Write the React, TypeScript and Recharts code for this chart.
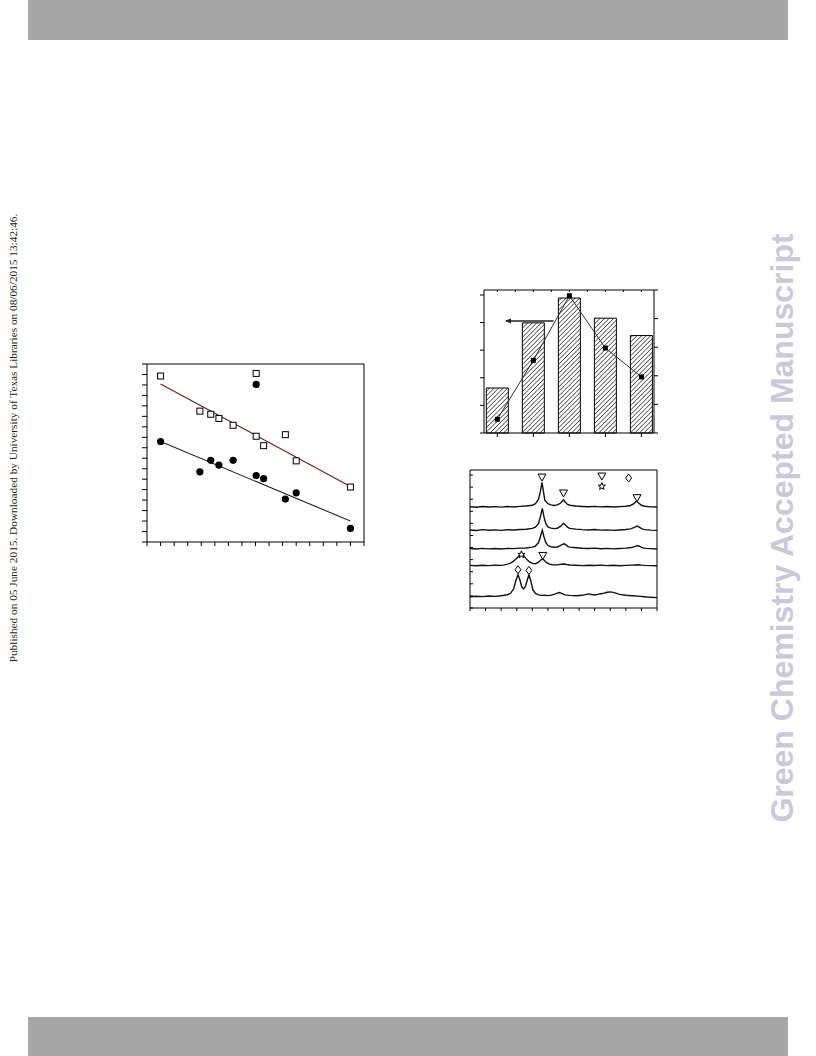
import React from "react";
import {
  Bar,
  ComposedChart,
  Line,
  ReferenceDot,
  ReferenceLine,
  Scatter,
  XAxis,
  YAxis,
} from "recharts";

// 왼쪽 그림: 두 계열의 산점도 + 추세선
const PT_X = [1, 3.9, 4.7, 5.3, 6.35, 8.05, 8.05, 8.6, 10.2, 11.0, 15.0];
const OPEN_Y = [15.85, 12.5, 12.2, 11.8, 11.15, 16.1, 10.1, 9.2, 10.25, 7.75, 5.25];
const FILLED_Y = [9.6, 6.7, 7.8, 7.35, 7.8, 15.05, 6.35, 6.05, 4.1, 4.7, 1.3];
const FIT_X = [1, 15];
const FIT_OPEN_Y = [15.1, 5.3];
const FIT_FILLED_Y = [9.6, 2.0];
const SCAT_X_TICKS = Array.from({ length: 17 }, (_, i) => i);
const SCAT_Y_TICKS = Array.from({ length: 18 }, (_, i) => i);

// 오른쪽 위: 막대(왼쪽 축) + 꺾은선(오른쪽 축)
const BAR_POS = [1, 2, 3, 4, 5];
const BAR_VAL = [16.3, 39.9, 48.9, 41.6, 35.3];
const LINE_VAL = [0.48, 2.54, 4.8, 2.97, 1.96];
const BAR_LEFT_TICKS = [0, 10, 20, 30, 40, 50];
const BAR_RIGHT_TICKS = [0, 1, 2, 3, 4, 5];
const BAR_TOP_TICKS = [1, 1.5, 2, 2.5, 3, 3.5, 4, 4.5, 5];
const ARROW_X = [2.56, 1.24];
const ARROW_Y = 40.6;

// 오른쪽 아래: XRD 패턴 5개 (위에서부터), [2θ, 세기]
const XRD_1: [number, number][] = [
  [10, 100.5], [12, 100], [14, 100.8], [16, 100.2], [18, 100.6], [20, 100.1], [22, 100.7],
  [24, 100.3], [26, 100.9], [28, 101.2], [30, 102], [31, 103.5], [32, 108], [32.6, 116],
  [33.1, 124.7], [33.5, 117], [34, 107], [35, 103.5], [36, 102.4], [37, 101.8], [38, 102.3],
  [39, 104], [39.6, 106], [40, 107.3], [40.5, 105.5], [41.2, 103], [42, 102], [44, 101.2],
  [46, 100.8], [48, 100.5], [50, 100.9], [52, 100.4], [54, 100.7], [56, 100.2], [58, 100.6],
  [60, 101], [61.5, 101.8], [62.6, 103.5], [63.4, 106.3], [64, 104.5], [65, 102], [66, 101],
  [68, 100.4], [70, 100.2],
];
const XRD_2: [number, number][] = [
  [10, 77.5], [12, 77], [14, 77.8], [16, 77.2], [18, 77.6], [20, 77.1], [22, 77.7],
  [24, 77.4], [26, 77.9], [28, 78.2], [30, 79], [31, 80.3], [32, 84], [32.7, 92],
  [33.2, 99], [33.7, 91], [34.3, 84], [35, 80.5], [36, 79.3], [37, 78.8], [38, 79.2],
  [39, 81], [39.7, 83.2], [40.1, 84], [40.6, 82.5], [41.3, 80.2], [42, 79], [44, 78.3],
  [46, 77.8], [48, 77.5], [50, 77.9], [52, 77.3], [54, 77.6], [56, 77.1], [58, 77.5],
  [60, 77.9], [61.5, 78.6], [62.8, 80], [63.6, 81.3], [64.3, 80.2], [65.2, 78.5], [66, 77.8],
  [68, 77.3], [70, 77.1],
];
const XRD_3: [number, number][] = [
  [10, 59], [12, 58.6], [14, 59.2], [16, 58.7], [18, 59.1], [20, 58.6], [22, 59.2],
  [24, 58.9], [26, 59.4], [28, 59.6], [30, 60.4], [31, 61.5], [32, 65], [32.7, 72],
  [33.2, 77.3], [33.7, 71], [34.3, 65], [35, 62], [36, 60.8], [37, 60.3], [38, 60.6],
  [39, 62], [39.8, 63.4], [40.3, 63.7], [40.8, 62.6], [41.5, 61], [42, 60.4], [44, 59.8],
  [46, 59.3], [48, 59], [50, 59.4], [52, 58.8], [54, 59.2], [56, 58.7], [58, 59],
  [60, 59.4], [61.8, 60], [63, 61.2], [63.9, 62], [64.6, 61], [65.5, 59.7], [66.5, 59.2],
  [68, 58.9], [70, 58.6],
];
const XRD_4: [number, number][] = [
  [10, 42.3], [12, 42], [14, 42.5], [16, 42.1], [18, 42.6], [20, 42.3], [21, 42.8],
  [22, 43.5], [23, 44.6], [24, 46.5], [25, 49.5], [26, 52.6], [26.5, 53.7], [27, 52.8],
  [28, 49], [29, 46], [30, 44.3], [31, 44], [32, 45.5], [32.7, 47.6], [33.3, 48.7],
  [33.9, 47.2], [34.6, 45], [35.5, 43.6], [36.5, 43], [38, 42.8], [39.3, 43.4], [40.2, 43.7],
  [41, 43.2], [42, 42.7], [44, 42.4], [46, 42.1], [48, 42.5], [50, 42.2], [52, 42.6],
  [54, 42.1], [56, 42.4], [58, 42], [60, 42.3], [62, 42.6], [64, 43], [65, 42.6],
  [66, 42.3], [68, 42.1], [70, 41.9],
];
const XRD_5: [number, number][] = [
  [10, 11.2], [12, 11.6], [14, 11.3], [16, 11.9], [18, 11.5], [20, 12.2], [21, 12.6],
  [22, 13.2], [23, 14.6], [24, 19], [24.7, 27], [25.4, 33], [26, 28], [26.6, 21],
  [27.2, 19], [27.8, 21.5], [28.4, 28], [28.9, 33], [29.5, 27], [30.2, 18], [31, 14.5],
  [32, 13], [33, 12.5], [34, 12.6], [35, 12.3], [36, 12.8], [37, 13.5], [38, 14.8],
  [38.7, 15.3], [39.4, 14.5], [40.5, 13], [42, 12.5], [44, 12.2], [46, 12.6], [47, 13.3],
  [48, 14], [49, 13.4], [50, 12.9], [51, 13.5], [52, 14.2], [53, 14.8], [54, 15.6],
  [55, 16], [56, 15.5], [57, 14.6], [58, 13.5], [60, 12.6], [62, 12.2], [64, 11.8],
  [66, 11.2], [68, 10.6], [70, 10.3],
];
const XRD_TRACES = [XRD_1, XRD_2, XRD_3, XRD_4, XRD_5];
const MARK_TRI: [number, number][] = [[33.1, 129.5], [40.0, 113.7], [63.6, 109], [52.3, 130.5], [33.35, 51.7]];
const MARK_STAR: [number, number][] = [[52.3, 120.7], [26.5, 53]];
const MARK_DIAMOND: [number, number][] = [[60.9, 129], [25.4, 38], [28.9, 37.3]];
const XRD_X_TICKS = Array.from({ length: 13 }, (_, i) => 10 + i * 5);
const XRD_Y_TICKS = Array.from({ length: 12 }, (_, i) => i * 12);

const blank = () => "";
const pairs = (xs: number[], ys: number[]) => xs.map((x, i) => ({ x, y: ys[i] }));
const fromPairs = (ps: [number, number][]) => ps.map(([x, y]) => ({ x, y }));

const OpenSquare = (p: any) => (
  <rect x={p.cx - 3} y={p.cy - 3} width={6} height={6} fill="#fff" stroke="#000" strokeWidth={1} />
);
const FilledCircle = (p: any) => <circle cx={p.cx} cy={p.cy} r={3.6} fill="#000" />;
const TriDown = (p: any) => (
  <polygon
    points={`${p.cx - 4},${p.cy - 3.5} ${p.cx + 4},${p.cy - 3.5} ${p.cx},${p.cy + 3.5}`}
    fill="#fff"
    stroke="#000"
    strokeWidth={1}
  />
);
const Diamond = (p: any) => (
  <polygon
    points={`${p.cx},${p.cy - 4} ${p.cx + 3},${p.cy} ${p.cx},${p.cy + 4} ${p.cx - 3},${p.cy}`}
    fill="#fff"
    stroke="#000"
    strokeWidth={1}
  />
);
const Star = (p: any) => {
  const pts: string[] = [];
  for (let i = 0; i < 10; i++) {
    const r = i % 2 === 0 ? 3.8 : 1.6;
    const a = -Math.PI / 2 + (i * Math.PI) / 5;
    pts.push(`${p.cx + r * Math.cos(a)},${p.cy + r * Math.sin(a)}`);
  }
  return <polygon points={pts.join(" ")} fill="#fff" stroke="#000" strokeWidth={1} />;
};
const SquareDot = (p: any) => (
  <rect key={`d${p.index}`} x={p.cx - 2.5} y={p.cy - 2.5} width={5} height={5} fill="#000" />
);
const ArrowHead = (p: any) => (
  <polygon points={`${p.cx - 1},${p.cy} ${p.cx + 5},${p.cy - 2.5} ${p.cx + 5},${p.cy + 2.5}`} fill="#222" />
);

// 축 영역은 1px만 잡고 나머지는 여백으로 둔다 (폭 0이면 축이 아예 안 그려짐)
const MARGIN = { top: 9, right: 9, bottom: 9, left: 9 };
const axisProps = { stroke: "#000", tickFormatter: blank };

function ScatterPanel() {
  return (
    <ComposedChart width={236} height={197} margin={MARGIN}>
      <XAxis xAxisId="b" type="number" dataKey="x" domain={[0, 16]} ticks={SCAT_X_TICKS} height={1} tickSize={4} {...axisProps} />
      <XAxis xAxisId="t" orientation="top" type="number" dataKey="x" domain={[0, 16]} ticks={SCAT_X_TICKS} height={1} tickSize={3} mirror {...axisProps} />
      <YAxis yAxisId="l" type="number" dataKey="y" domain={[0, 17]} ticks={SCAT_Y_TICKS} width={1} tickSize={5} {...axisProps} />
      <YAxis yAxisId="r" orientation="right" type="number" dataKey="y" domain={[0, 17]} ticks={SCAT_Y_TICKS} width={1} tickSize={3} mirror {...axisProps} />
      <Line xAxisId="b" yAxisId="l" data={pairs(FIT_X, FIT_OPEN_Y)} dataKey="y" stroke="#7a1414" strokeWidth={1.1} dot={false} isAnimationActive={false} />
      <Line xAxisId="b" yAxisId="l" data={pairs(FIT_X, FIT_FILLED_Y)} dataKey="y" stroke="#222" strokeWidth={1.1} dot={false} isAnimationActive={false} />
      <Scatter xAxisId="b" yAxisId="l" data={pairs(PT_X, OPEN_Y)} dataKey="y" shape={OpenSquare} isAnimationActive={false} />
      <Scatter xAxisId="b" yAxisId="l" data={pairs(PT_X, FILLED_Y)} dataKey="y" shape={FilledCircle} isAnimationActive={false} />
    </ComposedChart>
  );
}

function BarPanel() {
  const data = BAR_POS.map((x, i) => ({ x, bar: BAR_VAL[i], line: LINE_VAL[i] }));
  return (
    <ComposedChart width={190} height={162} margin={MARGIN} data={data}>
      <XAxis xAxisId="b" type="number" dataKey="x" domain={[0.63, 5.35]} ticks={BAR_POS} height={1} tickSize={4} {...axisProps} />
      <XAxis xAxisId="t" orientation="top" type="number" dataKey="x" domain={[0.63, 5.35]} ticks={BAR_TOP_TICKS} height={1} tickSize={2} mirror {...axisProps} />
      <YAxis yAxisId="l" type="number" domain={[0, 51.8]} ticks={BAR_LEFT_TICKS} width={1} tickSize={4} {...axisProps} />
      <YAxis yAxisId="r" orientation="right" type="number" domain={[0, 5]} ticks={BAR_RIGHT_TICKS} width={1} tickSize={4} {...axisProps} />
      <Bar xAxisId="b" yAxisId="l" dataKey="bar" barSize={22} fill="url(#hatch)" stroke="#000" strokeWidth={1} isAnimationActive={false} />
      <Line xAxisId="b" yAxisId="r" dataKey="line" stroke="#333" strokeWidth={1} dot={SquareDot} isAnimationActive={false} />
      <ReferenceLine
        xAxisId="b"
        yAxisId="l"
        segment={[{ x: ARROW_X[0], y: ARROW_Y }, { x: ARROW_X[1], y: ARROW_Y }]}
        stroke="#222"
        strokeWidth={1.5}
        ifOverflow="visible"
      />
      <ReferenceDot xAxisId="b" yAxisId="l" x={ARROW_X[1]} y={ARROW_Y} shape={ArrowHead} ifOverflow="visible" />
    </ComposedChart>
  );
}

function XrdPanel() {
  return (
    <ComposedChart width={205} height={157} margin={MARGIN}>
      <XAxis xAxisId="b" type="number" dataKey="x" domain={[10, 70]} ticks={XRD_X_TICKS} height={1} tickSize={3} {...axisProps} />
      <XAxis xAxisId="t" orientation="top" type="number" dataKey="x" domain={[10, 70]} ticks={XRD_X_TICKS} height={1} tickSize={2} mirror {...axisProps} />
      <YAxis yAxisId="l" type="number" dataKey="y" domain={[0, 137]} ticks={XRD_Y_TICKS} width={1} tickSize={3} mirror {...axisProps} />
      <YAxis yAxisId="r" orientation="right" type="number" dataKey="y" domain={[0, 137]} ticks={XRD_Y_TICKS} width={1} tickSize={3} mirror {...axisProps} />
      {XRD_TRACES.map((t, i) => (
        <Line
          key={i}
          xAxisId="b"
          yAxisId="l"
          data={fromPairs(t)}
          dataKey="y"
          stroke="#111"
          strokeWidth={1.4}
          dot={false}
          isAnimationActive={false}
        />
      ))}
      <Scatter xAxisId="b" yAxisId="l" data={fromPairs(MARK_TRI)} dataKey="y" shape={TriDown} isAnimationActive={false} />
      <Scatter xAxisId="b" yAxisId="l" data={fromPairs(MARK_STAR)} dataKey="y" shape={Star} isAnimationActive={false} />
      <Scatter xAxisId="b" yAxisId="l" data={fromPairs(MARK_DIAMOND)} dataKey="y" shape={Diamond} isAnimationActive={false} />
    </ComposedChart>
  );
}

export default function App() {
  return (
    <div style={{ position: "absolute", left: 0, top: 0, width: 816, height: 1056, background: "#fff", overflow: "hidden" }}>
      <svg width={0} height={0} style={{ position: "absolute" }}>
        <defs>
          <pattern id="hatch" width={3.2} height={3.2} patternUnits="userSpaceOnUse" patternTransform="rotate(45)">
            <line x1={0} y1={0} x2={0} y2={3.2} stroke="#111" strokeWidth={1.2} />
          </pattern>
        </defs>
      </svg>

      <div style={{ position: "absolute", left: 28, top: 0, width: 760, height: 40, background: "#a6a6a6" }} />
      <div style={{ position: "absolute", left: 28, top: 1017, width: 760, height: 39, background: "#a6a6a6" }} />

      <div
        style={{
          position: "absolute",
          left: 14,
          top: 438,
          transform: "translate(-50%, -50%) rotate(-90deg)",
          whiteSpace: "nowrap",
          fontFamily: '"Liberation Serif", "Times New Roman", serif',
          fontSize: 11.3,
          lineHeight: 1,
          color: "#222",
        }}
      >
        Published on 05 June 2015. Downloaded by University of Texas Libraries on 08/06/2015 13:42:46.
      </div>
      <div
        style={{
          position: "absolute",
          left: 781.5,
          top: 528,
          transform: "translate(-50%, -50%) rotate(-90deg)",
          whiteSpace: "nowrap",
          fontFamily: '"Liberation Sans", Arial, sans-serif',
          fontWeight: 700,
          fontSize: 32,
          lineHeight: 1,
          color: "#c9c9dd",
        }}
      >
        Green Chemistry Accepted Manuscript
      </div>

      <div style={{ position: "absolute", left: 137, top: 355 }}>
        <ScatterPanel />
      </div>
      <div style={{ position: "absolute", left: 474, top: 281 }}>
        <BarPanel />
      </div>
      <div style={{ position: "absolute", left: 461, top: 461 }}>
        <XrdPanel />
      </div>
    </div>
  );
}
